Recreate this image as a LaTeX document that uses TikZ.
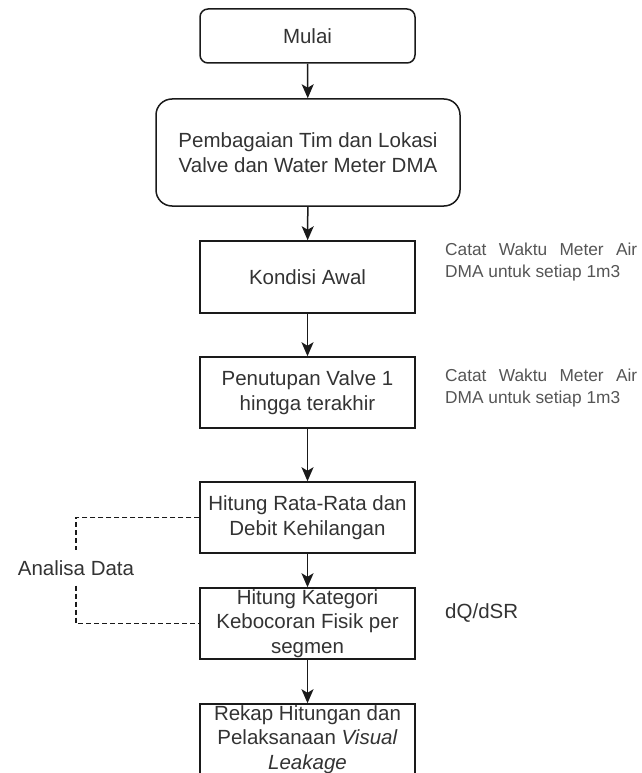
\documentclass[tikz,border=0pt]{standalone}
\usepackage{fontspec}
\setmainfont{Liberation Sans}
\usetikzlibrary{arrows.meta}
\definecolor{linegray}{HTML}{1A1A1A}
\definecolor{textgray}{HTML}{333333}
\definecolor{notegray}{HTML}{555555}

\tikzset{
  prosesbox/.style={draw=linegray, line width=1.5pt, minimum width=215pt,
    minimum height=71pt, inner sep=0pt, align=center, text=textgray,
    font=\fontsize{20.5}{24.5}\selectfont},
  mulaibox/.style={prosesbox, rounded corners=8pt, minimum height=54pt},
  bagibox/.style={prosesbox, rounded corners=16pt, minimum width=304pt, minimum height=107pt},
  panah/.style={draw=linegray, line width=1.5pt, -{Stealth[length=14pt,width=12pt,inset=3.5pt]}},
  garis/.style={draw=linegray, line width=1.1pt, dash pattern=on 5pt off 3pt},
  catatan/.style={anchor=west, inner sep=0pt, align=left, text=notegray,
    font=\fontsize{17.3}{22}\selectfont},
  label/.style={inner xsep=2pt, inner ysep=10pt, text=textgray,
    font=\fontsize{20.5}{24.5}\selectfont},
}

\begin{document}
\begin{tikzpicture}[x=1pt, y=-1pt]
    \useasboundingbox (0,0) rectangle (641,773);
    \clip (0,0) rectangle (641,773);

    % alur utama
    \node[mulaibox] (mulai) at (307.5,36) {Mulai};
    \node[bagibox] (bagi) at (308,152.5) {Pembagaian Tim dan Lokasi\\Valve dan Water Meter DMA};
    \node[prosesbox, minimum height=72pt] (awal) at (307.5,277) {Kondisi Awal};
    \node[prosesbox] (tutup) at (307.5,392.5) {Penutupan Valve 1\\hingga terakhir};
    \node[prosesbox] (rata) at (307.5,517.5) {Hitung Rata-Rata dan\\Debit Kehilangan};
    \node[prosesbox] (kategori) at (307.5,623.5) {Hitung Kategori\\Kebocoran Fisik per\\segmen};
    \node[prosesbox] (rekap) at (307.5,739.5) {Rekap Hitungan dan\\Pelaksanaan \textit{Visual}\\\textit{Leakage}};

    \draw[panah] (mulai) -- (bagi);
    \draw[panah] (bagi) -- (awal);
    \draw[panah] (awal) -- (tutup);
    \draw[panah] (tutup) -- (rata);
    \draw[panah] (rata) -- (kategori);
    \draw[panah] (kategori) -- (rekap);

    % keterangan
    \node[catatan] (catat1) at (445,262) {\makebox[192pt][s]{Catat Waktu Meter Air}\\DMA untuk setiap 1m3};
    \node[catatan] (catat2) at (445,388) {\makebox[192pt][s]{Catat Waktu Meter Air}\\DMA untuk setiap 1m3};
    \node[catatan, text=textgray, font=\fontsize{20.5}{24.5}\selectfont] (dq) at (445,613) {dQ/dSR};

    % analisa data
    \node[label] (analisa) at (76,568) {Analisa Data};
    \draw[garis] (rata.west) -| (analisa.north);
    \draw[garis] (analisa.south) |- (kategori.west);
\end{tikzpicture}
\end{document}
